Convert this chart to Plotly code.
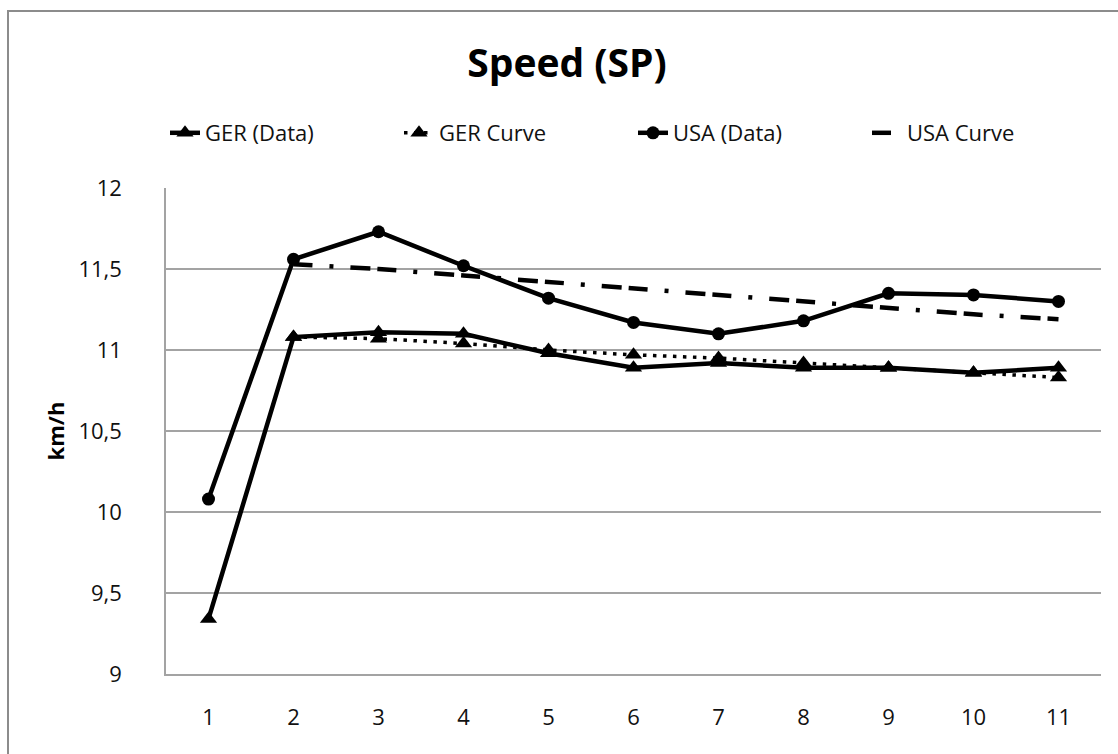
import plotly.graph_objects as go

# Runs 1..11
runs = [1, 2, 3, 4, 5, 6, 7, 8, 9, 10, 11]

# Measured speeds (km/h)
ger_data = [9.34, 11.08, 11.11, 11.10, 10.98, 10.89, 10.92, 10.89, 10.89, 10.86, 10.89]
usa_data = [10.08, 11.56, 11.73, 11.52, 11.32, 11.17, 11.10, 11.18, 11.35, 11.34, 11.30]

# Fitted curves (start at run 2)
curve_runs = [2, 3, 4, 5, 6, 7, 8, 9, 10, 11]
ger_curve = [11.08, 11.07, 11.04, 11.00, 10.97, 10.95, 10.92, 10.89, 10.86, 10.83]
usa_curve = [11.53, 11.50, 11.46, 11.42, 11.38, 11.34, 11.30, 11.26, 11.22, 11.19]

y_ticks = [9, 9.5, 10, 10.5, 11, 11.5, 12]

FONT = "Open Sans"
INK = "#111111"
GRID = "#a3a3a3"

fig = go.Figure()

fig.add_trace(go.Scatter(
    x=runs, y=ger_data, name="GER (Data)", mode="lines+markers",
    line=dict(color="black", width=4.5),
    marker=dict(symbol="triangle-up", size=15, color="black"),
))
fig.add_trace(go.Scatter(
    x=curve_runs, y=ger_curve, name="GER Curve", mode="lines+markers",
    line=dict(color="black", width=3.5, dash="3.5px,6.5px"),
    marker=dict(symbol="triangle-up", size=15, color="black"),
))
fig.add_trace(go.Scatter(
    x=runs, y=usa_data, name="USA (Data)", mode="lines+markers",
    line=dict(color="black", width=4.5),
    marker=dict(symbol="circle", size=13, color="black"),
))
fig.add_trace(go.Scatter(
    x=curve_runs, y=usa_curve, name="USA Curve", mode="lines",
    line=dict(color="black", width=4.5, dash="19px,17px,4px,17px,20px,7px"),
))

L, R, T, B = 166, 17, 188, 80
W, H = 1118, 754
pw, ph = W - L - R, H - T - B

def px_x(x):
    return (x - L) / pw

def px_y(y):
    return (H - B - y) / ph

fig.update_layout(
    width=W, height=H,
    margin=dict(l=L, r=R, t=T, b=B),
    paper_bgcolor="white", plot_bgcolor="white",
    separators=",.",
    font=dict(family=FONT, size=22, color=INK),
    title=dict(
        text="<b>Speed (SP)</b>", font=dict(family=FONT, size=39, color="black"),
        x=567 / W, xanchor="center", xref="container",
        y=1 - 63 / H, yanchor="middle",
    ),
    showlegend=True,
    legend=dict(
        orientation="h", x=px_x(165), xanchor="left", y=px_y(133), yanchor="middle",
        font=dict(family=FONT, size=22, color=INK),
        entrywidth=189, entrywidthmode="pixels",
        bgcolor="rgba(0,0,0,0)", itemclick=False,
    ),
    xaxis=dict(
        range=[0.5, 11.5], tickvals=runs, ticktext=[str(r) for r in runs],
        showgrid=False, zeroline=False, showline=True, linecolor=GRID, linewidth=1.5,
        ticks="", ticklabelstandoff=23, tickfont=dict(size=22, color=INK),
    ),
    yaxis=dict(
        range=[9, 12], tickvals=y_ticks,
        showgrid=True, gridcolor=GRID, gridwidth=1.5, zeroline=False,
        showline=True, linecolor=GRID, linewidth=1.5,
        ticks="", ticklabelstandoff=38, tickfont=dict(size=22, color=INK),
        title=dict(text="<b>km/h</b>", font=dict(family=FONT, size=22, color="black"), standoff=8),
    ),
    shapes=[dict(
        type="rect", xref="paper", yref="paper",
        x0=px_x(8), x1=px_x(1140), y0=px_y(780), y1=px_y(11),
        line=dict(color="#8c8c8c", width=2), fillcolor="rgba(0,0,0,0)", layer="below",
    )],
)

fig.write_html("out.html")
